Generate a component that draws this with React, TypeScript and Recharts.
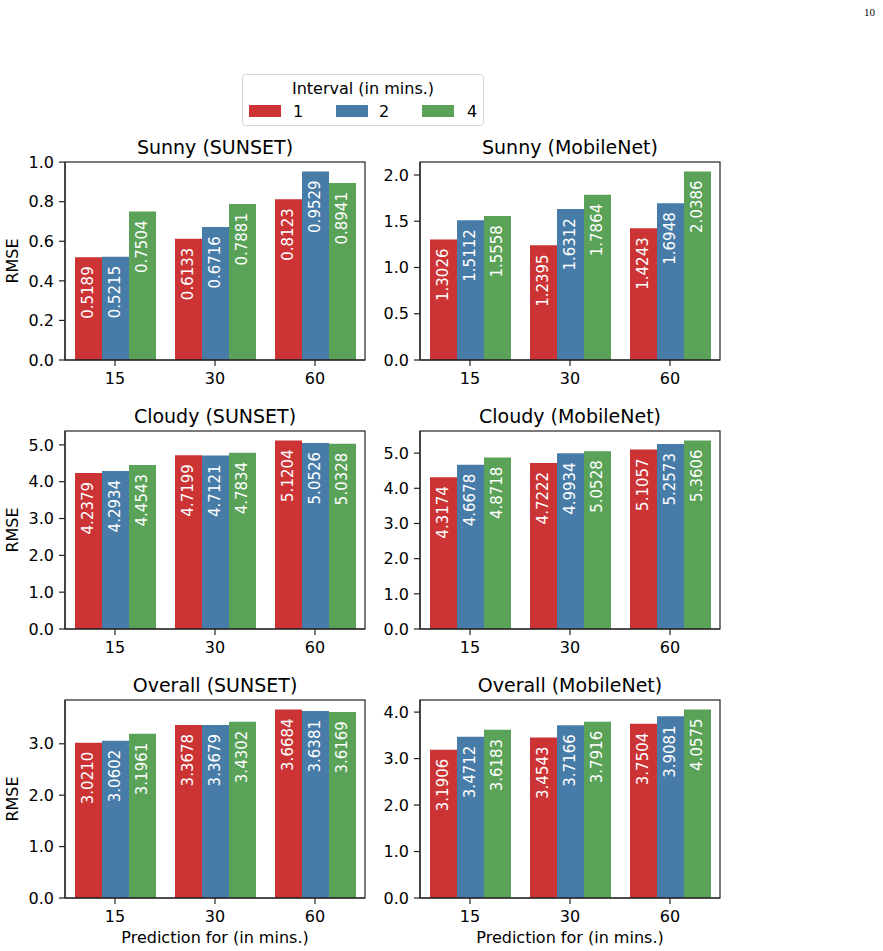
import React from 'react';
import { BarChart, Bar, XAxis, YAxis, LabelList } from 'recharts';

// prediction horizons on the x axis and the sampling intervals (series)
const horizons = ['15', '30', '60'];
const intervals = ['1', '2', '4'];

// RMSE per interval, one value per horizon
const sunnySunset1 = [0.5189, 0.6133, 0.8123];
const sunnySunset2 = [0.5215, 0.6716, 0.9529];
const sunnySunset4 = [0.7504, 0.7881, 0.8941];

const sunnyMobile1 = [1.3026, 1.2395, 1.4243];
const sunnyMobile2 = [1.5112, 1.6312, 1.6948];
const sunnyMobile4 = [1.5558, 1.7864, 2.0386];

const cloudySunset1 = [4.2379, 4.7199, 5.1204];
const cloudySunset2 = [4.2934, 4.7121, 5.0526];
const cloudySunset4 = [4.4543, 4.7834, 5.0328];

const cloudyMobile1 = [4.3174, 4.7222, 5.1057];
const cloudyMobile2 = [4.6678, 4.9934, 5.2573];
const cloudyMobile4 = [4.8718, 5.0528, 5.3606];

const overallSunset1 = [3.021, 3.3678, 3.6684];
const overallSunset2 = [3.0602, 3.3679, 3.6381];
const overallSunset4 = [3.1961, 3.4302, 3.6169];

const overallMobile1 = [3.1906, 3.4543, 3.7504];
const overallMobile2 = [3.4712, 3.7166, 3.9081];
const overallMobile4 = [3.6183, 3.7916, 4.0575];

// y tick values
const sunnySunsetTicks = [0, 0.2, 0.4, 0.6, 0.8, 1.0];
const sunnyMobileTicks = [0, 0.5, 1.0, 1.5, 2.0];
const cloudyTicks = [0, 1, 2, 3, 4, 5];
const overallSunsetTicks = [0, 1, 2, 3];
const overallMobileTicks = [0, 1, 2, 3, 4];

const COLORS = ['#cb3335', '#477ca8', '#59a257'];
const FONT = '"DejaVu Sans", sans-serif';

const PLOT_W = 300;
const PLOT_H = 198;
const Y_AXIS_W = 60;
const X_AXIS_H = 40;
const TOP_PAD = 12; // room for the top tick label
const COL_X = [65, 420];
const ROW_Y = [162, 431, 700];

const spine = { stroke: '#222', strokeWidth: 1.2 };

const panels = [
  { title: 'Sunny (SUNSET)', series: [sunnySunset1, sunnySunset2, sunnySunset4], ticks: sunnySunsetTicks, row: 0, col: 0 },
  { title: 'Sunny (MobileNet)', series: [sunnyMobile1, sunnyMobile2, sunnyMobile4], ticks: sunnyMobileTicks, row: 0, col: 1 },
  { title: 'Cloudy (SUNSET)', series: [cloudySunset1, cloudySunset2, cloudySunset4], ticks: cloudyTicks, row: 1, col: 0 },
  { title: 'Cloudy (MobileNet)', series: [cloudyMobile1, cloudyMobile2, cloudyMobile4], ticks: cloudyTicks, row: 1, col: 1 },
  { title: 'Overall (SUNSET)', series: [overallSunset1, overallSunset2, overallSunset4], ticks: overallSunsetTicks, row: 2, col: 0 },
  { title: 'Overall (MobileNet)', series: [overallMobile1, overallMobile2, overallMobile4], ticks: overallMobileTicks, row: 2, col: 1 },
];

const keys = intervals.map((iv) => `i${iv}`);

// value written upwards inside the bar, just below its top
const renderValue = (props: any) => {
  const x = Number(props.x);
  const y = Number(props.y);
  const w = Number(props.width);
  const cx = x + w / 2;
  const ty = y + 9;
  return (
    <text
      x={cx}
      y={ty}
      transform={`rotate(-90, ${cx}, ${ty})`}
      textAnchor="end"
      dominantBaseline="central"
      fill="#fff"
      fontSize={15}
      fontFamily={FONT}
    >
      {Number(props.value).toFixed(4)}
    </text>
  );
};

function Panel({ series, ticks, left, top }: any) {
  const data = horizons.map((h, i) => {
    const row: any = { horizon: h };
    keys.forEach((k, j) => (row[k] = series[j][i]));
    return row;
  });
  const yMax = Math.max(...series.flat()) * 1.05;
  return (
    <div style={{ position: 'absolute', left: left - Y_AXIS_W, top: top - TOP_PAD }}>
      <BarChart
        width={Y_AXIS_W + PLOT_W + 1}
        height={TOP_PAD + PLOT_H + X_AXIS_H}
        data={data}
        margin={{ top: TOP_PAD, right: 1, bottom: 0, left: 0 }}
        barCategoryGap="10%"
        barGap={0}
      >
        <XAxis
          dataKey="horizon"
          height={X_AXIS_H}
          axisLine={spine}
          tickLine={spine}
          tickSize={6}
          tickMargin={7}
          tick={{ fill: '#000', fontSize: 16, fontFamily: FONT }}
        />
        <YAxis
          type="number"
          domain={[0, yMax]}
          ticks={ticks}
          allowDataOverflow
          width={Y_AXIS_W}
          axisLine={spine}
          tickLine={spine}
          tickSize={6}
          tickMargin={5}
          tickFormatter={(v: number) => v.toFixed(1)}
          tick={{ fill: '#000', fontSize: 16, fontFamily: FONT }}
        />
        {keys.map((k, j) => (
          <Bar key={k} dataKey={k} fill={COLORS[j]} isAnimationActive={false}>
            <LabelList dataKey={k} content={renderValue} />
          </Bar>
        ))}
      </BarChart>
    </div>
  );
}

export default function App() {
  const legendItems = [
    { x: 249, tx: 298 },
    { x: 336, tx: 384 },
    { x: 422, tx: 472 },
  ];
  return (
    <div
      style={{
        position: 'absolute',
        left: 0,
        top: 0,
        width: 883,
        height: 951,
        background: '#fff',
        fontFamily: FONT,
      }}
    >
      <svg width={883} height={951} style={{ position: 'absolute', left: 0, top: 0 }}>
        <text x={875} y={16} textAnchor="end" fontSize={11} fontFamily='"Liberation Serif", serif' fill="#000">
          10
        </text>

        {/* shared legend */}
        <rect x={242.5} y={74.5} width={241} height={51} rx={3} fill="#fff" stroke="#d4d4d4" />
        <text x={363} y={94} textAnchor="middle" fontSize={16} fontFamily={FONT} fill="#000">
          Interval (in mins.)
        </text>
        {intervals.map((iv, j) => (
          <g key={iv}>
            <rect x={legendItems[j].x} y={105} width={32} height={12} fill={COLORS[j]} />
            <text x={legendItems[j].tx} y={117} textAnchor="middle" fontSize={16} fontFamily={FONT} fill="#000">
              {iv}
            </text>
          </g>
        ))}

        {panels.map((p) => {
          const cx = COL_X[p.col] + PLOT_W / 2;
          const top = ROW_Y[p.row];
          return (
            <g key={p.title}>
              <text x={cx} y={top - 8} textAnchor="middle" fontSize={19} fontFamily={FONT} fill="#000">
                {p.title}
              </text>
              {p.col === 0 && (
                <text
                  x={18}
                  y={top + PLOT_H / 2}
                  transform={`rotate(-90, 18, ${top + PLOT_H / 2})`}
                  textAnchor="middle"
                  fontSize={16}
                  fontFamily={FONT}
                  fill="#000"
                >
                  RMSE
                </text>
              )}
              {p.row === 2 && (
                <text x={cx} y={top + PLOT_H + 45} textAnchor="middle" fontSize={16} fontFamily={FONT} fill="#000">
                  Prediction for (in mins.)
                </text>
              )}
            </g>
          );
        })}
      </svg>

      {panels.map((p) => (
        <Panel key={p.title} series={p.series} ticks={p.ticks} left={COL_X[p.col]} top={ROW_Y[p.row]} />
      ))}

      {/* top and right spines closing each axes box */}
      <svg width={883} height={951} style={{ position: 'absolute', left: 0, top: 0, pointerEvents: 'none' }}>
        {panels.map((p) => (
          <rect
            key={p.title}
            x={COL_X[p.col]}
            y={ROW_Y[p.row]}
            width={PLOT_W}
            height={PLOT_H}
            fill="none"
            stroke={spine.stroke}
            strokeWidth={spine.strokeWidth}
          />
        ))}
      </svg>
    </div>
  );
}
